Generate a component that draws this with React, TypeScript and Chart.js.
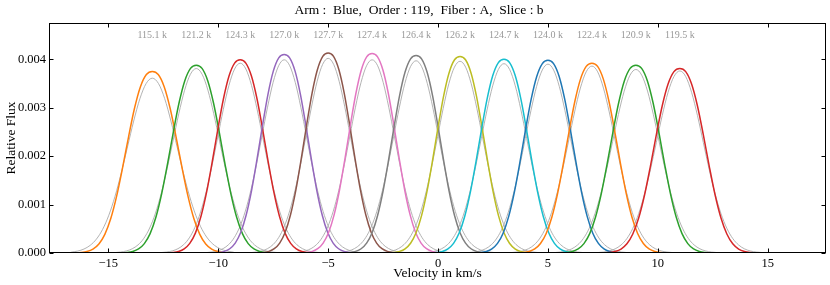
import { useEffect, useRef } from 'react';
import { Chart, registerables } from 'chart.js';

Chart.register(...registerables);

const FONT = "'Liberation Serif', 'DejaVu Serif', serif";

// centres of the line profiles (km/s)
const CENTERS = [-13, -11, -9, -7, -5, -3, -1, 1, 3, 5, 7, 9, 11];
// measured profile peaks (relative flux)
const PEAKS = [0.00375, 0.00388, 0.00399, 0.0041, 0.00413, 0.00412, 0.00408, 0.00406, 0.004, 0.00398, 0.00392, 0.00388, 0.00381];
// measured profile width scale (relative to the shape below)
const WIDTHS = [1.08, 1.05, 1.02, 0.99, 0.98, 0.99, 1.0, 1.0, 1.02, 1.02, 1.04, 1.05, 1.07];
// fitted (grey) gaussian peaks and sigmas (km/s)
const FIT_PEAKS = [0.00361, 0.00381, 0.00392, 0.00399, 0.00402, 0.00399, 0.00397, 0.00396, 0.00391, 0.0039, 0.00386, 0.00379, 0.00376];
const FIT_WIDTHS = [1.13, 1.06, 1.03, 1.01, 1.0, 1.01, 1.02, 1.02, 1.03, 1.03, 1.05, 1.06, 1.07];
// annotation above each profile
const PEAK_LABELS = ['115.1 k', '121.2 k', '124.3 k', '127.0 k', '127.7 k', '127.4 k', '126.4 k', '126.2 k', '124.7 k', '124.0 k', '122.4 k', '120.9 k', '119.5 k'];
const COLORS = ['#ff7f0e', '#2ca02c', '#d62728', '#9467bd', '#8c564b', '#e377c2', '#7f7f7f', '#bcbd22', '#17becf', '#1f77b4', '#ff7f0e', '#2ca02c', '#d62728'];
const LINE_OFFSETS = [0, 0.25, 0.5, 0.75, 1, 1.25, 1.5, 1.75, 2, 2.25, 2.5, 2.75, 3, 3.25, 3.5];
const LINE_VALUES = [1, 0.983, 0.916, 0.797, 0.64, 0.471, 0.3146, 0.1899, 0.1029, 0.0498, 0.0215, 0.0082, 0.0028, 0.0008, 0.0002];
// gaussian fit shape: offsets in sigma units and relative height
const FIT_OFFSETS = [0, 0.25, 0.5, 0.75, 1, 1.25, 1.5, 1.75, 2, 2.25, 2.5, 2.75, 3, 3.25, 3.5];
const FIT_VALUES = [1, 0.9692, 0.8825, 0.7548, 0.6065, 0.4578, 0.3247, 0.2163, 0.1353, 0.0796, 0.0439, 0.0228, 0.0111, 0.0051, 0.0022];
const SPAN = 3.8; // half extent of each plotted profile in km/s

const X_TICKS = [-15, -10, -5, 0, 5, 10, 15];
const Y_TICKS = [0, 0.001, 0.002, 0.003, 0.004];
const X_MIN = -17.7;
const X_MAX = 17.65;
const Y_MIN = 0;
const Y_MAX = 0.00475;
const LABEL_Y = 0.0045;
const TITLE = 'Arm :  Blue,  Order : 119,  Fiber : A,  Slice : b';

function curve(center: number, peak: number, width: number, offsets: number[], values: number[]) {
  const pts: { x: number; y: number }[] = [];
  const offs: number[] = [];
  const vals: number[] = [];
  for (let i = offsets.length - 1; i > 0; i--) {
    offs.push(-offsets[i]);
    vals.push(values[i]);
  }
  for (let i = 0; i < offsets.length; i++) {
    offs.push(offsets[i]);
    vals.push(values[i]);
  }
  pts.push({ x: center - SPAN, y: 0 });
  offs.forEach((o, i) => {
    const dx = o * width;
    if (Math.abs(dx) < SPAN - 0.05) pts.push({ x: center + dx, y: peak * vals[i] });
  });
  pts.push({ x: center + SPAN, y: 0 });
  return pts;
}

const framePlugin = {
  id: 'frame',
  afterDatasetsDraw(chart: any) {
    const { ctx, chartArea: a, scales } = chart;
    ctx.save();
    ctx.strokeStyle = '#000';
    ctx.lineWidth = 1;
    const l = Math.round(a.left) + 0.5;
    const r = Math.round(a.right) - 0.5;
    const t = Math.round(a.top) + 0.5;
    const b = Math.round(a.bottom) - 0.5;
    ctx.strokeRect(l, t, r - l, b - t);
    ctx.beginPath();
    const tl = 4;
    X_TICKS.forEach((v) => {
      const x = Math.round(scales.x.getPixelForValue(v)) + 0.5;
      ctx.moveTo(x, b);
      ctx.lineTo(x, b - tl);
      ctx.moveTo(x, t);
      ctx.lineTo(x, t + tl);
    });
    Y_TICKS.forEach((v) => {
      const y = Math.round(scales.y.getPixelForValue(v)) + 0.5;
      ctx.moveTo(l, y);
      ctx.lineTo(l + tl, y);
      ctx.moveTo(r, y);
      ctx.lineTo(r - tl, y);
    });
    ctx.stroke();
    // labels above peaks
    ctx.fillStyle = '#999999';
    ctx.font = `10px ${FONT}`;
    ctx.textAlign = 'center';
    ctx.textBaseline = 'middle';
    CENTERS.forEach((c, i) => {
      ctx.fillText(PEAK_LABELS[i], scales.x.getPixelForValue(c), scales.y.getPixelForValue(LABEL_Y));
    });
    // title
    ctx.fillStyle = '#000';
    ctx.font = `13.5px ${FONT}`;
    ctx.fillText(TITLE, chart.width / 2 + 4, 10.5);
    ctx.restore();
  },
};

export default function App() {
  const ref = useRef<HTMLCanvasElement>(null);
  useEffect(() => {
    document.body.style.margin = '0';
    const fits: any[] = [];
    const lines: any[] = [];
    CENTERS.forEach((c, i) => {
      lines.push({
        data: curve(c, PEAKS[i], WIDTHS[i], LINE_OFFSETS, LINE_VALUES),
        borderColor: COLORS[i],
        borderWidth: 1.5,
      });
      fits.push({
        data: curve(c, FIT_PEAKS[i], FIT_WIDTHS[i], FIT_OFFSETS, FIT_VALUES),
        borderColor: '#aaaaaa',
        borderWidth: 0.9,
      });
    });
    // Chart.js draws the first dataset on top: coloured lines first, grey fits behind
    const datasets = [...lines.reverse(), ...fits].map((d) => ({
      ...d,
      pointRadius: 0,
      fill: false,
      cubicInterpolationMode: 'monotone',
    }));
    const tickFont = { family: FONT, size: 12.5 };
    const chart = new Chart(ref.current as HTMLCanvasElement, {
      type: 'line',
      data: { datasets },
      options: {
        responsive: false,
        devicePixelRatio: 1,
        animation: false,
        layout: { padding: { top: 23, right: 4, left: 0, bottom: 0 } },
        plugins: { legend: { display: false }, tooltip: { enabled: false }, title: { display: false } },
        scales: {
          x: {
            type: 'linear',
            min: X_MIN,
            max: X_MAX,
            grid: { display: false, drawTicks: false },
            border: { display: false },
            afterBuildTicks: (s: any) => {
              s.ticks = X_TICKS.map((v) => ({ value: v }));
            },
            afterFit: (s: any) => {
              s.height = 32;
            },
            ticks: {
              color: '#000',
              font: tickFont,
              padding: 3,
              maxRotation: 0,
              autoSkip: false,
              callback: (v: any) => (v < 0 ? '\u2212' + Math.abs(v) : String(v)),
            },
            title: {
              display: true,
              text: 'Velocity in km/s',
              color: '#000',
              font: { family: FONT, size: 13.5 },
              padding: { top: 0, bottom: 3 },
            },
          },
          y: {
            type: 'linear',
            min: Y_MIN,
            max: Y_MAX,
            grid: { display: false, drawTicks: false },
            border: { display: false },
            afterBuildTicks: (s: any) => {
              s.ticks = Y_TICKS.map((v) => ({ value: v }));
            },
            afterFit: (s: any) => {
              s.width = 49;
            },
            ticks: {
              color: '#000',
              font: tickFont,
              padding: 3,
              callback: (v: any) => Number(v).toFixed(3),
            },
            title: {
              display: true,
              text: 'Relative Flux',
              color: '#000',
              font: { family: FONT, size: 13.5 },
              padding: { top: 3, bottom: 0 },
            },
          },
        },
      },
      plugins: [framePlugin],
    } as any);
    return () => chart.destroy();
  }, []);
  return (
    <div style={{ width: 830, height: 285 }}>
      <canvas ref={ref} width={830} height={285} style={{ display: 'block' }} />
    </div>
  );
}
